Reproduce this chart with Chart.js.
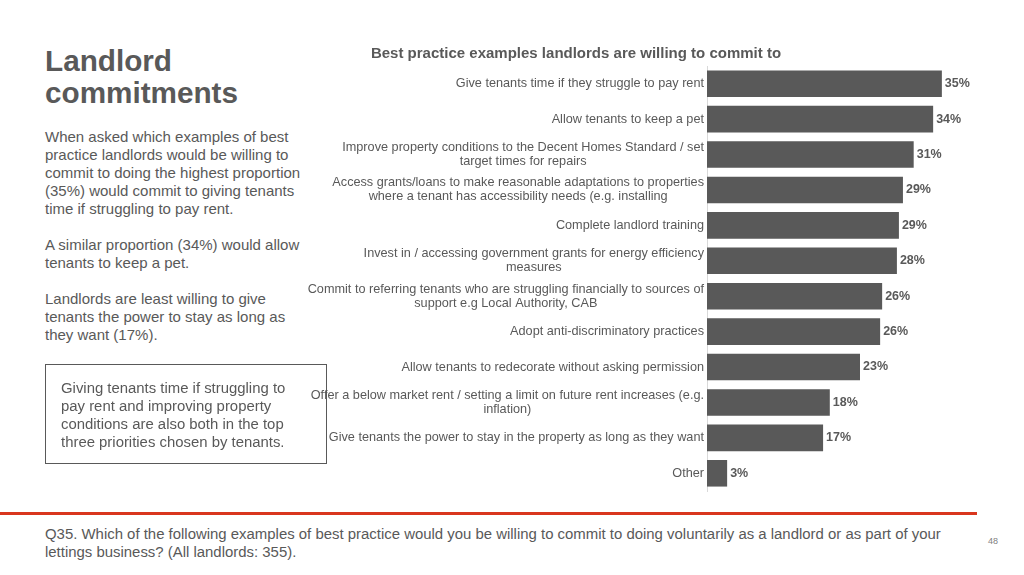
<!DOCTYPE html>
<html>
<head>
<meta charset="utf-8">
<script src="https://cdn.jsdelivr.net/npm/chart.js@4.4.1/dist/chart.umd.min.js"></script>
<style>
  html, body { margin: 0; padding: 0; background: #fff; }
  body { width: 1024px; height: 575px; position: relative; overflow: hidden;
         font-family: "Liberation Sans", Arial, sans-serif; color: #595959; }
  .abs { position: absolute; }
  #heading { left: 45px; top: 45px; font-size: 29.7px; font-weight: bold; line-height: 32px; }
  #body { left: 45px; top: 128px; font-size: 15px; line-height: 18px; white-space: nowrap; }
  #body p { margin: 0 0 18px 0; }
  #box { left: 45px; top: 364px; width: 280px; height: 98px; border: 1.5px solid #595959; }
  #boxText { left: 61px; top: 379px; font-size: 14.9px; line-height: 18px; white-space: nowrap; }
  #rule { left: 0; top: 512px; width: 977px; height: 3px; background: #d9361e; }
  #foot { left: 45px; top: 525px; font-size: 14.93px; line-height: 18px; white-space: nowrap; }
  #page { left: 988px; top: 536px; font-size: 9px; color: #7f7f7f; }
  #wrap { left: 190px; top: 39px; width: 782px; height: 462px; }
</style>
</head>
<body>
<div class="abs" id="heading">Landlord<br>commitments</div>
<div class="abs" id="body">
  <p>When asked which examples of best<br>practice landlords would be willing to<br>commit to doing the highest proportion<br>(35%) would commit to giving tenants<br>time if struggling to pay rent.</p>
  <p>A similar proportion (34%) would allow<br>tenants to keep a pet.</p>
  <p>Landlords are least willing to give<br>tenants the power to stay as long as<br>they want (17%).</p>
</div>
<div class="abs" id="wrap"><canvas id="chart"></canvas></div>
<div class="abs" id="box"></div>
<div class="abs" id="boxText">Giving tenants time if struggling to<br>pay rent and improving property<br>conditions are also both in the top<br>three priorities chosen by tenants.</div>
<div class="abs" id="rule"></div>
<div class="abs" id="foot">Q35. Which of the following examples of best practice would you be willing to commit to doing voluntarily as a landlord or as part of your<br>lettings business? (All landlords: 355).</div>
<div class="abs" id="page">48</div>

<script>
const chartTitle = 'Best practice examples landlords are willing to commit to';

const categories = [
  'Give tenants time if they struggle to pay rent',
  'Allow tenants to keep a pet',
  ['Improve property conditions to the Decent Homes Standard / set', 'target times for repairs'],
  ['Access grants/loans to make reasonable adaptations to properties', 'where a tenant has accessibility needs (e.g. installing'],
  'Complete landlord training',
  ['Invest in / accessing government grants for energy efficiency', 'measures'],
  ['Commit to referring tenants who are struggling financially to sources of', 'support e.g Local Authority, CAB'],
  'Adopt anti-discriminatory practices',
  'Allow tenants to redecorate without asking permission',
  ['Offer a below market rent / setting a limit on future rent increases (e.g.', 'inflation)'],
  'Give tenants the power to stay in the property as long as they want',
  'Other'
];

// share of landlords
const values = [35.0, 33.7, 30.8, 29.2, 28.6, 28.3, 26.1, 25.8, 22.8, 18.3, 17.3, 3.0];

const textGrey = '#595959';
const labelFont = '12.7px "Liberation Sans", Arial, sans-serif';

// y labels: each label block right-aligned at the axis, its lines centred on each other
const centredLabels = {
  id: 'centredLabels',
  afterDraw(chart) {
    const ctx = chart.ctx;
    const yScale = chart.scales.y;
    const left = chart.chartArea.left;
    ctx.save();
    ctx.font = labelFont;
    ctx.fillStyle = textGrey;
    ctx.textAlign = 'center';
    ctx.textBaseline = 'middle';
    categories.forEach((label, i) => {
      const lines = Array.isArray(label) ? label : [label];
      const widest = Math.max(...lines.map(l => ctx.measureText(l).width));
      const cx = left - 3 - widest / 2;
      const y = yScale.getPixelForTick(i);
      lines.forEach((line, j) => {
        ctx.fillText(line, cx, y + (j - (lines.length - 1) / 2) * 14);
      });
    });
    ctx.restore();
  }
};

const valueLabels = {
  id: 'valueLabels',
  afterDatasetsDraw(chart) {
    const ctx = chart.ctx;
    const meta = chart.getDatasetMeta(0);
    ctx.save();
    ctx.font = 'bold 12.5px "Liberation Sans", Arial, sans-serif';
    ctx.fillStyle = textGrey;
    ctx.textAlign = 'left';
    ctx.textBaseline = 'middle';
    meta.data.forEach((bar, i) => {
      ctx.fillText(Math.round(values[i]) + '%', bar.x + 3, bar.y);
    });
    ctx.restore();
  }
};

new Chart(document.getElementById('chart'), {
  type: 'bar',
  data: {
    labels: categories,
    datasets: [{
      data: values,
      backgroundColor: '#595959',
      barPercentage: 0.75,
      categoryPercentage: 1
    }]
  },
  options: {
    indexAxis: 'y',
    responsive: true,
    maintainAspectRatio: false,
    animation: false,
    layout: { padding: { left: 0, right: 10, top: 0, bottom: 10 } },
    plugins: {
      legend: { display: false },
      tooltip: { enabled: false },
      title: {
        display: true,
        text: chartTitle,
        color: textGrey,
        font: { family: '"Liberation Sans", Arial, sans-serif', size: 15, weight: 'bold' },
        padding: { top: 6, bottom: 3 }
      }
    },
    scales: {
      x: { display: false, min: 0, max: 38 },
      y: {
        grid: { display: false, drawTicks: false },
        border: { display: true, color: '#d9d9d9', width: 1 },
        ticks: { display: false },
        afterFit(scale) { scale.width = 517; }
      }
    }
  },
  plugins: [centredLabels, valueLabels]
});
</script>
</body>
</html>
